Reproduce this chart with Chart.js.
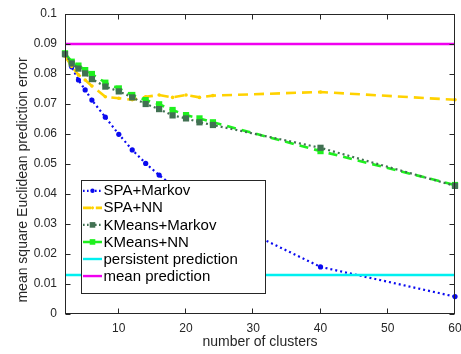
<!DOCTYPE html>
<html>
<head>
<meta charset="utf-8">
<script src="https://cdn.jsdelivr.net/npm/chart.js@4.4.1/dist/chart.umd.min.js"></script>
<style>
  html, body { margin: 0; padding: 0; background: #fff; }
  #wrap { width: 461px; height: 354px; position: relative; }
</style>
</head>
<body>
<div id="wrap"><canvas id="c" width="461" height="354"></canvas></div>
<script>
const clusters = [2, 3, 4, 5, 6, 8, 10, 12, 14, 16, 18, 20, 22, 24, 40, 60];
const spaMarkov = [0.0863, 0.0824, 0.0780, 0.0747, 0.0713, 0.0656, 0.0599, 0.0547, 0.0502, 0.0463, 0.0428, 0.0395, 0.0362, 0.0330, 0.0157, 0.0058];
const spaNN = [0.0860, 0.0825, 0.0797, 0.0780, 0.0760, 0.0724, 0.0719, 0.0714, 0.0724, 0.0730, 0.0722, 0.0730, 0.0722, 0.0728, 0.0740, 0.0714];
const kmMarkov = [0.0866, 0.0835, 0.0818, 0.0802, 0.0783, 0.0758, 0.0742, 0.0722, 0.0700, 0.0683, 0.0662, 0.0652, 0.0639, 0.0630, 0.0554, 0.0427];
const kmNN = [0.0869, 0.0841, 0.0828, 0.0813, 0.0800, 0.0771, 0.0752, 0.0730, 0.0713, 0.0699, 0.0680, 0.0663, 0.0652, 0.0639, 0.0543, 0.0430];
const persistentX = [2, 60];
const persistentY = [0.013, 0.013];
const meanX = [2, 60];
const meanY = [0.09, 0.09];
const seriesNames = ['SPA+Markov', 'SPA+NN', 'KMeans+Markov', 'KMeans+NN', 'persistent prediction', 'mean prediction'];
const xTicks = [10, 20, 30, 40, 50, 60];
const yTicks = [0, 0.01, 0.02, 0.03, 0.04, 0.05, 0.06, 0.07, 0.08, 0.09, 0.1];

const FONT = "'Liberation Sans', Arial, Helvetica, sans-serif";
const pts = (xs, ys) => xs.map((x, i) => ({ x: x, y: ys[i] }));

const datasets = [
  { label: seriesNames[0], data: pts(clusters, spaMarkov), borderColor: '#0a0af0', backgroundColor: '#0a0af0',
    borderWidth: 2.2, borderDash: [2, 3], pointStyle: 'circle', pointRadius: 2.6, pointBorderWidth: 0, order: 6 },
  { label: seriesNames[1], data: pts(clusters, spaNN), borderColor: '#ffd200', backgroundColor: '#ffd200',
    borderWidth: 2.6, borderDash: [10, 6], pointStyle: 'circle', pointRadius: 1.8, pointBorderWidth: 0, order: 5 },
  { label: seriesNames[2], data: pts(clusters, kmMarkov), borderColor: '#417152', backgroundColor: '#417152',
    borderWidth: 2.2, borderDash: [2, 3], pointStyle: 'rect', pointRadius: 4.4, pointBorderWidth: 0, order: 3 },
  { label: seriesNames[3], data: pts(clusters, kmNN), borderColor: '#1ef01e', backgroundColor: '#1ef01e',
    borderWidth: 2.6, borderDash: [9, 6], pointStyle: 'rect', pointRadius: 4.4, pointBorderWidth: 0, order: 4 },
  { label: seriesNames[4], data: pts(persistentX, persistentY), borderColor: '#00f0f0', backgroundColor: '#00f0f0',
    borderWidth: 2.4, pointRadius: 0, order: 2 },
  { label: seriesNames[5], data: pts(meanX, meanY), borderColor: '#f000f0', backgroundColor: '#f000f0',
    borderWidth: 2.4, pointRadius: 0, order: 1 }
];
datasets.forEach(d => { d.fill = false; d.tension = 0; d.clip = false; d.borderCapStyle = 'butt'; });

const framePlugin = {
  id: 'frame',
  afterDatasetsDraw(chart) {
    const { ctx, chartArea: a, scales: { x, y } } = chart;
    ctx.save();
    ctx.strokeStyle = '#262626';
    ctx.lineWidth = 1;
    ctx.setLineDash([]);
    const L = Math.round(a.left) + 0.5, R = Math.round(a.right) - 0.5;
    const T = Math.round(a.top) + 0.5, B = Math.round(a.bottom) - 0.5;
    ctx.strokeRect(L, T, R - L, B - T);
    ctx.beginPath();
    const tl = 5;
    xTicks.forEach(v => {
      const px = Math.round(x.getPixelForValue(v)) - 0.5;
      ctx.moveTo(px, B); ctx.lineTo(px, B - tl);
      ctx.moveTo(px, T); ctx.lineTo(px, T + tl);
    });
    yTicks.forEach(v => {
      const py = Math.round(y.getPixelForValue(v)) + 0.5;
      ctx.moveTo(L, py); ctx.lineTo(L + tl, py);
      ctx.moveTo(R, py); ctx.lineTo(R - tl, py);
    });
    ctx.stroke();
    ctx.restore();
  },
  afterDraw(chart) {
    const ctx = chart.ctx;
    ctx.save();
    // y axis title
    ctx.translate(23, 180);
    ctx.rotate(-Math.PI / 2);
    ctx.font = '14px ' + FONT;
    ctx.fillStyle = '#262626';
    ctx.textAlign = 'center';
    ctx.textBaseline = 'middle';
    ctx.fillText('mean square Euclidean prediction error', 0, 0);
    ctx.restore();

    // legend
    ctx.save();
    const bx = 81, by = 180, bw = 184, bh = 113;
    ctx.fillStyle = '#ffffff';
    ctx.fillRect(bx, by, bw, bh);
    ctx.strokeStyle = '#262626';
    ctx.lineWidth = 1;
    ctx.strokeRect(bx + 0.5, by + 0.5, bw, bh);
    chart.data.datasets.forEach((d, i) => {
      const yy = 190.8 + i * 17.05;
      ctx.save();
      ctx.strokeStyle = d.borderColor;
      ctx.lineWidth = d.borderWidth;
      ctx.setLineDash(d.borderDash ? d.borderDash.map(v => v * 0.8) : []);
      ctx.beginPath();
      ctx.moveTo(83, yy); ctx.lineTo(102, yy);
      ctx.stroke();
      ctx.setLineDash([]);
      ctx.fillStyle = d.backgroundColor;
      if (d.pointRadius > 0) {
        if (d.pointStyle === 'rect') {
          const s = 2.8;
          ctx.fillRect(92.5 - s, yy - s, 2 * s, 2 * s);
        } else {
          ctx.beginPath();
          ctx.arc(92.5, yy, d.pointRadius * 0.85, 0, Math.PI * 2);
          ctx.fill();
        }
      }
      ctx.restore();
      ctx.font = '15px ' + FONT;
      ctx.fillStyle = '#000000';
      ctx.textAlign = 'left';
      ctx.textBaseline = 'middle';
      ctx.fillText(d.label, 103.5, yy + 0.5);
    });
    ctx.restore();
  }
};

new Chart(document.getElementById('c'), {
  type: 'line',
  data: { datasets: datasets },
  plugins: [framePlugin],
  options: {
    responsive: false,
    animation: false,
    devicePixelRatio: 1,
    layout: { padding: { top: 14, right: 6, left: 0, bottom: 0 } },
    plugins: { legend: { display: false }, tooltip: { enabled: false } },
    elements: { line: { tension: 0 } },
    scales: {
      x: {
        type: 'linear', min: 2, max: 60,
        grid: { display: false, drawTicks: false }, border: { display: false },
        afterBuildTicks: s => { s.ticks = xTicks.map(v => ({ value: v })); },
        afterFit: s => { s.height = 40; s.paddingLeft = 0; s.paddingRight = 0; },
        ticks: { padding: 7, color: '#262626', font: { family: FONT, size: 12 }, maxRotation: 0, autoSkip: false },
        title: { display: true, text: 'number of clusters', color: '#262626', font: { family: FONT, size: 14 }, padding: { top: 0, bottom: 3 } }
      },
      y: {
        type: 'linear', min: 0, max: 0.1,
        grid: { display: false, drawTicks: false }, border: { display: false },
        afterBuildTicks: s => { s.ticks = yTicks.map(v => ({ value: v })); },
        afterFit: s => { s.width = 65; s.paddingTop = 0; s.paddingBottom = 0; },
        ticks: { padding: 8, color: '#262626', font: { family: FONT, size: 12 }, autoSkip: false,
          callback: v => String(parseFloat(Number(v).toFixed(2))) }
      }
    }
  }
});
</script>
</body>
</html>
